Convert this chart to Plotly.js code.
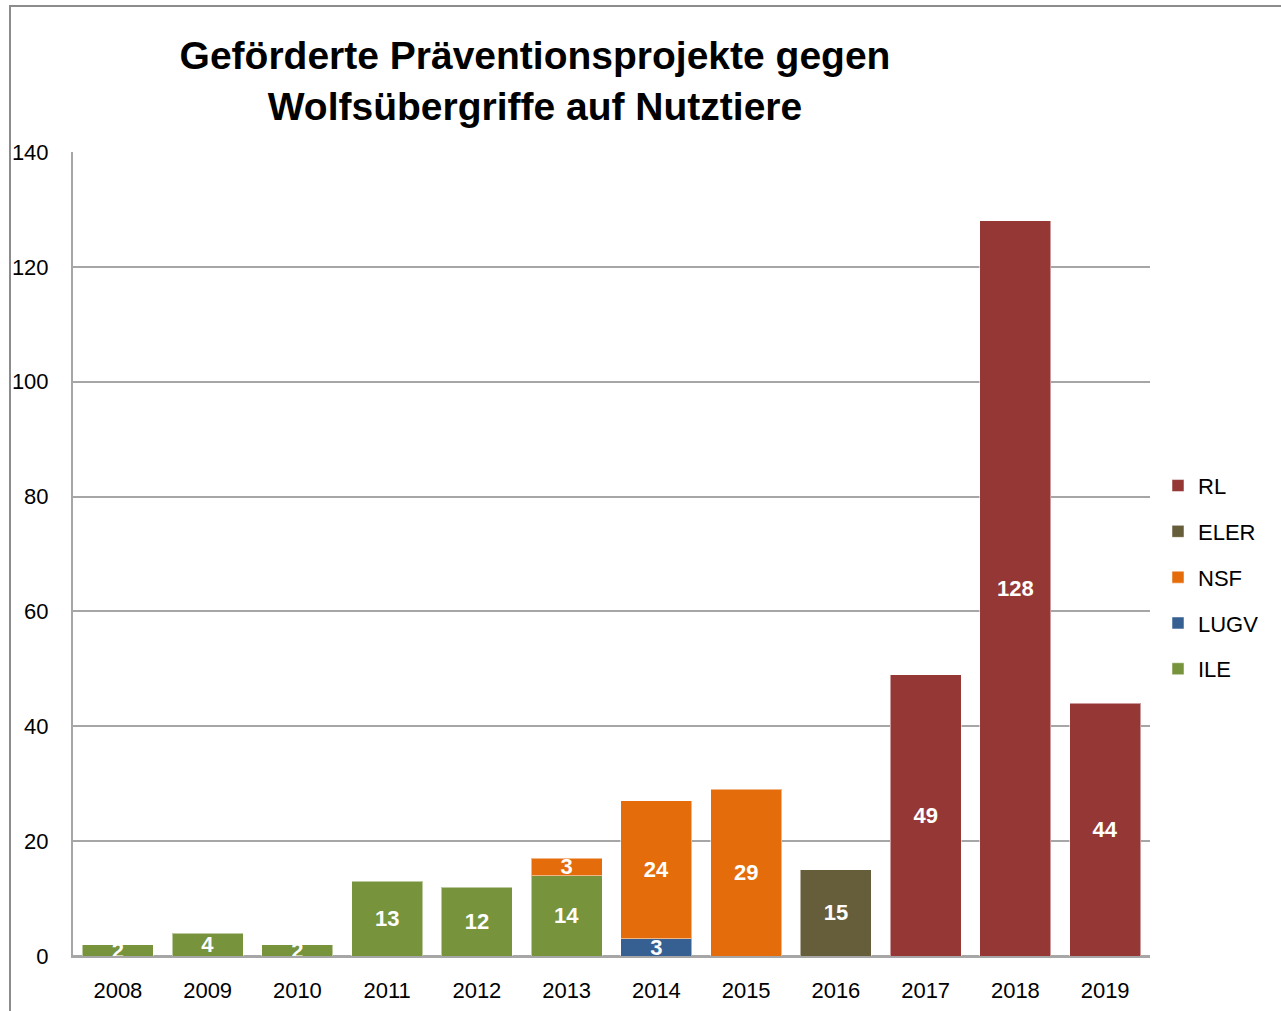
<!DOCTYPE html>
<html>
<head>
<meta charset="utf-8">
<script src="https://cdn.plot.ly/plotly-3.0.1.min.js"></script>
<style>html,body{margin:0;padding:0;background:#fff;}#chart{width:1281px;height:1011px;}</style>
</head>
<body>
<div id="chart"></div>
<script>
const years = ["2008","2009","2010","2011","2012","2013","2014","2015","2016","2017","2018","2019"];
const ILE  = [2, 4, 2, 13, 12, 14, null, null, null, null, null, null];
const LUGV = [null, null, null, null, null, null, 3, null, null, null, null, null];
const NSF  = [null, null, null, null, null, 3, 24, 29, null, null, null, null];
const ELER = [null, null, null, null, null, null, null, null, 15, null, null, null];
const RL   = [null, null, null, null, null, null, null, null, null, 49, 128, 44];
const yTicks = [0, 20, 40, 60, 80, 100, 120, 140];

const FONT = '"Liberation Sans", Arial, sans-serif';

function tr(name, vals, color, rank) {
  return {
    type: 'bar', name: name, x: years, y: vals,
    marker: {color: color, line: {color: 'rgba(255,255,255,0.5)', width: 1}},
    texttemplate: '%{y}', textposition: 'inside', insidetextanchor: 'middle',
    textangle: 0, constraintext: 'none',
    textfont: {family: FONT, size: 22, color: '#ffffff', weight: 'bold'},
    legendgroup: name, legendrank: rank, hoverinfo: 'x+y+name'
  };
}

const data = [
  tr('ILE', ILE, '#77933C', 5),
  tr('LUGV', LUGV, '#376092', 4),
  tr('NSF', NSF, '#E46C0A', 3),
  tr('ELER', ELER, '#665D3A', 2),
  tr('RL', RL, '#953735', 1)
];

const layout = {
  width: 1281, height: 1011,
  margin: {l: 73, r: 131, t: 152, b: 55},
  paper_bgcolor: '#ffffff', plot_bgcolor: '#ffffff',
  barmode: 'stack', bargap: 0.21,
  font: {family: FONT, color: '#000000', size: 22},
  title: {
    text: '<b>Geförderte Präventionsprojekte gegen<br>Wolfsübergriffe auf Nutztiere</b>',
    font: {family: FONT, size: 39, color: '#000000'},
    x: 535/1281, xanchor: 'center', xref: 'container',
    y: 1 - 69/1011, yanchor: 'middle', yref: 'container'
  },
  xaxis: {
    type: 'category', tickfont: {family: FONT, size: 22, color: '#000'},
    showgrid: false, showline: true, linecolor: '#a6a6a6', linewidth: 2,
    ticks: '', ticklabelstandoff: 14, fixedrange: true
  },
  yaxis: {
    range: [0, 140], tickvals: yTicks, ticktext: yTicks.map(String),
    tickfont: {family: FONT, size: 22, color: '#000'},
    showgrid: true, gridcolor: '#a6a6a6', gridwidth: 2,
    zeroline: true, zerolinecolor: '#a6a6a6', zerolinewidth: 2,
    showline: true, linecolor: '#a6a6a6', linewidth: 2,
    ticks: '', ticklabelstandoff: 18, fixedrange: true
  },
  legend: {
    x: (1158-73)/1077, xanchor: 'left', y: 0.611, yanchor: 'top',
    traceorder: 'grouped', tracegroupgap: 14.2,
    font: {family: FONT, size: 22, color: '#000'},
    itemwidth: 30, bgcolor: 'rgba(0,0,0,0)'
  },
  shapes: [{
    type: 'rect', xref: 'paper', yref: 'paper',
    x0: (10-73)/1077, x1: 1.3, y0: -0.2, y1: (956-6)/804,
    line: {color: '#8c8c8c', width: 2}, layer: 'below'
  }],
  showlegend: true
};

Plotly.newPlot('chart', data, layout, {displayModeBar: false, staticPlot: true});
</script>
</body>
</html>
